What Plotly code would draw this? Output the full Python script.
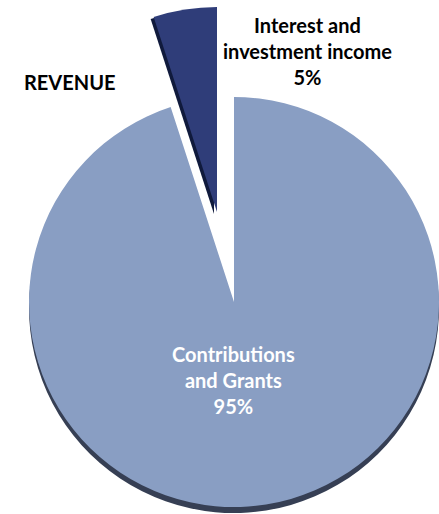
import plotly.graph_objects as go

# Data
labels = ["Contributions and Grants", "Interest and investment income"]
label_lines = ["Contributions<br>and Grants", "Interest and<br>investment income"]
values = [95, 5]
title_text = "REVENUE"

colors = ["#899ec3", "#2f3d79"]
shadow_color = "#363f54"
transparent = "rgba(0,0,0,0)"

W, H = 439, 514

def dom(cx, cy, r):
    return dict(x=[(cx - r) / W, min(1.0, (cx + r) / W)],
                y=[max(0.0, (H - cy - r) / H), min(1.0, (H - cy + r) / H)])

R = 205
main_c = (234, 302)
pulled_c = (217, 212)

total = sum(values)
pcts = [round(v / total * 100) for v in values]

fig = go.Figure()

common = dict(labels=labels, values=values, sort=False, direction="clockwise",
              rotation=0, textinfo="none", hoverinfo="skip", showlegend=False)

# shadows
fig.add_trace(go.Pie(**common, domain=dom(main_c[0], main_c[1] + 6, R),
                     marker=dict(colors=[shadow_color, transparent], line=dict(width=0))))
fig.add_trace(go.Pie(**common, domain=dom(pulled_c[0] - 3, pulled_c[1] + 2, R),
                     marker=dict(colors=[transparent, "#101a3c"], line=dict(width=0))))
# main slice
fig.add_trace(go.Pie(**common, domain=dom(*main_c, R),
                     marker=dict(colors=[colors[0], transparent], line=dict(width=0))))
# pulled slice
fig.add_trace(go.Pie(**common, domain=dom(*pulled_c, R),
                     marker=dict(colors=[transparent, colors[1]], line=dict(width=0))))

font = "Lato"
fig.add_annotation(x=233 / W, y=1 - 380 / H, xref="paper", yref="paper", showarrow=False,
                   xanchor="center", yanchor="middle",
                   text=f"<b>{label_lines[0]}<br>{pcts[0]}%</b>",
                   font=dict(family=font, size=20, color="white"), align="center")
fig.add_annotation(x=307 / W, y=1 - 51 / H, xref="paper", yref="paper", showarrow=False,
                   xanchor="center", yanchor="middle",
                   text=f"<b>{label_lines[1]}<br>{pcts[1]}%</b>",
                   font=dict(family=font, size=20, color="black"), align="center")
fig.add_annotation(x=22 / W, y=1 - 82 / H, xref="paper", yref="paper", showarrow=False,
                   xanchor="left", yanchor="middle", text=f"<b>{title_text}</b>",
                   font=dict(family=font, size=20, color="black"))

fig.update_layout(width=W, height=H, margin=dict(l=0, r=0, t=0, b=0),
                  paper_bgcolor="white", plot_bgcolor="white")

fig.write_html("out.html", config={"displayModeBar": False},
               post_script="document.body.style.margin='0';document.body.style.overflow='hidden';")
